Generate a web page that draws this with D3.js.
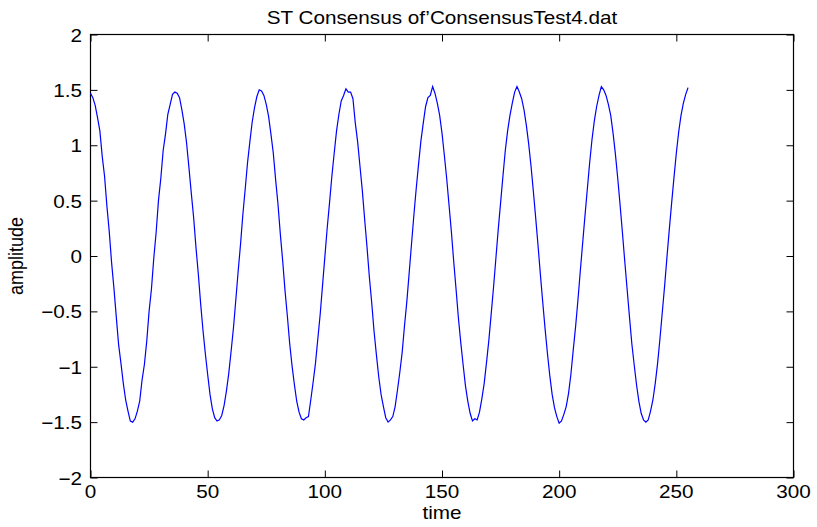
<!DOCTYPE html>
<html lang="en">
<head>
  <meta charset="UTF-8">
  <title>ST Consensus</title>
  <script src="https://d3js.org/d3.v7.min.js"></script>
  <style>
    body { margin: 0; background: #fff; }
    text { font-family: "Liberation Sans", Arial, sans-serif; fill: #000; }
  </style>
</head>
<body>

<div id="chart"></div>

<script>
  // Data (one sample per time step, starting at t = 0)
  const amplitude = [
    1.47, 1.43, 1.36, 1.25, 1.13, 0.90, 0.72, 0.45, 0.22, -0.06,
    -0.29, -0.55, -0.80, -0.97, -1.15, -1.30, -1.40, -1.49, -1.50, -1.47,
    -1.40, -1.31, -1.12, -0.98, -0.77, -0.50, -0.30, -0.02, 0.21, 0.50,
    0.70, 0.95, 1.10, 1.28, 1.37, 1.46, 1.48, 1.47, 1.43, 1.32,
    1.19, 1.02, 0.80, 0.57, 0.35, 0.08, -0.16, -0.43, -0.67, -0.88,
    -1.07, -1.25, -1.38, -1.46, -1.49, -1.48, -1.44, -1.35, -1.22, -1.06,
    -0.86, -0.65, -0.40, -0.14, 0.10, 0.37, 0.60, 0.84, 1.03, 1.21,
    1.34, 1.44, 1.50, 1.49, 1.45, 1.37, 1.26, 1.10, 0.93, 0.69,
    0.47, 0.20, -0.04, -0.31, -0.54, -0.79, -0.99, -1.16, -1.31, -1.41,
    -1.47, -1.48, -1.46, -1.45, -1.30, -1.14, -0.97, -0.75, -0.53, -0.27,
    -0.01, 0.25, 0.48, 0.72, 0.93, 1.13, 1.28, 1.40, 1.45, 1.51,
    1.48, 1.48, 1.42, 1.20, 1.03, 0.81, 0.59, 0.33, 0.08, -0.19,
    -0.42, -0.68, -0.89, -1.09, -1.25, -1.36, -1.46, -1.50, -1.48, -1.45,
    -1.36, -1.21, -1.05, -0.87, -0.63, -0.41, -0.15, 0.11, 0.37, 0.61,
    0.83, 1.04, 1.20, 1.35, 1.43, 1.45, 1.53, 1.47, 1.38, 1.27,
    1.11, 0.91, 0.70, 0.46, 0.22, -0.05, -0.30, -0.56, -0.78, -0.98,
    -1.17, -1.31, -1.42, -1.49, -1.47, -1.48, -1.41, -1.29, -1.15, -0.96,
    -0.76, -0.52, -0.28, -0.02, 0.24, 0.48, 0.72, 0.95, 1.13, 1.27,
    1.38, 1.48, 1.53, 1.48, 1.42, 1.32, 1.18, 1.01, 0.81, 0.58,
    0.34, 0.09, -0.17, -0.42, -0.66, -0.88, -1.08, -1.25, -1.37, -1.45,
    -1.51, -1.49, -1.43, -1.36, -1.24, -1.07, -0.85, -0.64, -0.40, -0.14,
    0.11, 0.36, 0.60, 0.84, 1.05, 1.22, 1.35, 1.45, 1.53, 1.50,
    1.45, 1.37, 1.27, 1.11, 0.92, 0.70, 0.46, 0.21, -0.05, -0.30,
    -0.55, -0.79, -0.98, -1.16, -1.31, -1.42, -1.48, -1.50, -1.48, -1.40,
    -1.30, -1.15, -0.97, -0.75, -0.51, -0.27, -0.01, 0.24, 0.48, 0.71,
    0.93, 1.12, 1.27, 1.38, 1.46, 1.52
  ];
  const xTicks = [0, 50, 100, 150, 200, 250, 300];
  const yTicks = [-2, -1.5, -1, -0.5, 0, 0.5, 1, 1.5, 2];

  const width = 817;
  const height = 527;
  const plotLeft = 90.5, plotRight = 793.5, plotTop = 34.5, plotBottom = 477.5;
  const tickLen = 7;
  const stretch = 1.15; // the reference text is a bit wide

  const x = d3.scaleLinear().domain([0, 300]).range([plotLeft, plotRight]);
  const y = d3.scaleLinear().domain([-2, 2]).range([plotBottom, plotTop]);

  const svg = d3.select("#chart")
    .append("svg")
    .attr("width", width)
    .attr("height", height);

  // axes with inward ticks on all four sides
  const axes = [
    { axis: d3.axisBottom(x), at: `translate(0,${plotBottom})`, ticks: xTicks },
    { axis: d3.axisTop(x), at: `translate(0,${plotTop})`, ticks: xTicks },
    { axis: d3.axisLeft(y), at: `translate(${plotLeft},0)`, ticks: yTicks },
    { axis: d3.axisRight(y), at: `translate(${plotRight},0)`, ticks: yTicks }
  ];
  axes.forEach(a => {
    const g = svg.append("g")
      .attr("transform", a.at)
      .call(a.axis.tickValues(a.ticks).tickSize(-tickLen).tickFormat(""));
    g.select(".domain").remove();
    g.selectAll("line").attr("stroke", "#000").attr("stroke-width", 1);
  });

  // box
  svg.append("rect")
    .attr("x", plotLeft).attr("y", plotTop)
    .attr("width", plotRight - plotLeft).attr("height", plotBottom - plotTop)
    .attr("fill", "none").attr("stroke", "#000").attr("stroke-width", 1.2);

  const fmt = v => (v < 0 ? "\u2212" : "") + Math.abs(v);

  // x tick labels
  svg.selectAll(".xlab")
    .data(xTicks)
    .enter()
    .append("text")
    .attr("class", "xlab")
    .attr("transform", d => `translate(${x(d)},498) scale(${stretch},1)`)
    .attr("text-anchor", "middle")
    .style("font-size", "18px")
    .text(fmt);

  // y tick labels
  svg.selectAll(".ylab")
    .data(yTicks)
    .enter()
    .append("text")
    .attr("class", "ylab")
    .attr("transform", d => `translate(82,${y(d) + 7}) scale(${stretch},1)`)
    .attr("text-anchor", "end")
    .style("font-size", "18px")
    .text(fmt);

  // the signal
  const line = d3.line()
    .x((d, i) => x(i))
    .y(d => y(d));

  svg.append("path")
    .datum(amplitude)
    .attr("d", line)
    .attr("fill", "none")
    .attr("stroke", "#0000ff")
    .attr("stroke-width", 1.2);

  // title and axis labels
  svg.append("text")
    .attr("transform", `translate(${(plotLeft + plotRight) / 2},24) scale(${stretch},1)`)
    .attr("text-anchor", "middle")
    .style("font-size", "18px")
    .text("ST Consensus of\u2019ConsensusTest4.dat");

  svg.append("text")
    .attr("transform", `translate(${(plotLeft + plotRight) / 2},519) scale(${stretch},1)`)
    .attr("text-anchor", "middle")
    .style("font-size", "18px")
    .text("time");

  svg.append("text")
    .attr("transform", `translate(23,${(plotTop + plotBottom) / 2}) scale(${stretch},1) rotate(-90)`)
    .attr("text-anchor", "middle")
    .style("font-size", "18px")
    .text("amplitude");
</script>

</body>
</html>
